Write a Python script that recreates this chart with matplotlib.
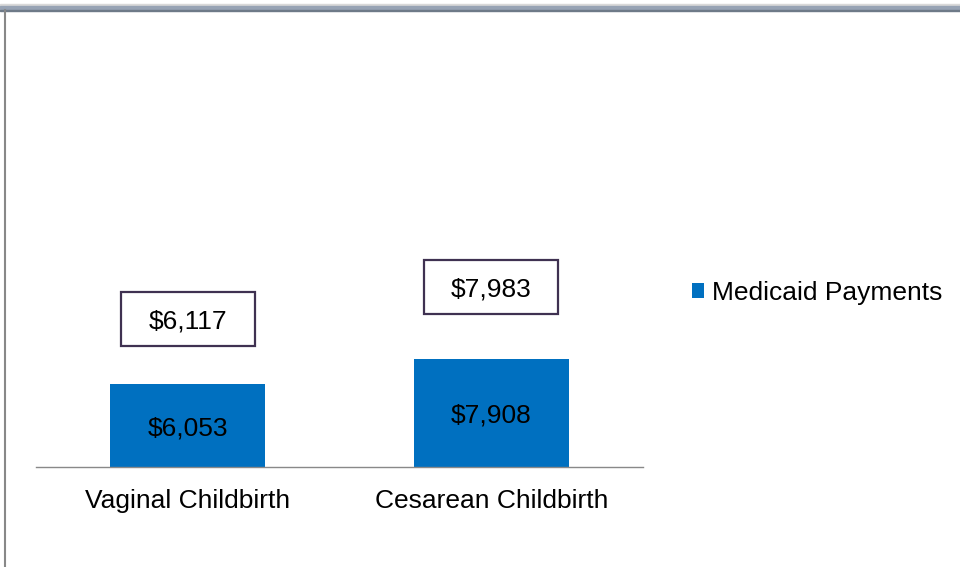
import matplotlib.pyplot as plt
from matplotlib.patches import Rectangle, Patch
from matplotlib.lines import Line2D

categories = ['Vaginal Childbirth', 'Cesarean Childbirth']
medicaid = [6053, 7908]
boxed = [6117, 7983]
series_name = 'Medicaid Payments'

bar_color = '#0070C0'
box_color = '#3F3151'
font = 'Liberation Sans'
fs = 19

fig = plt.figure(figsize=(9.6, 5.67), dpi=100)
W, H = 960, 567
# axes: x from 36 to 643 px, y from 467 (axis) to 20 px
ax = fig.add_axes([36 / W, (H - 467) / H, (643 - 36) / W, (467 - 20) / H])

x = range(len(categories))
bars = ax.bar(x, medicaid, width=0.51, color=bar_color)
ax.set_xlim(-0.5, len(categories) - 0.5)
ax.set_ylim(0, 447 * medicaid[0] / 83)

for s in ['top', 'right', 'left']:
    ax.spines[s].set_visible(False)
ax.spines['bottom'].set_color('#898989')
ax.spines['bottom'].set_linewidth(1)
ax.set_yticks([])
ax.set_xticks(list(x))
ax.set_xticklabels(categories, fontsize=fs, family=font)
ax.tick_params(axis='x', length=0, pad=16)

# labels inside bars
fig.canvas.draw()
for i, v in enumerate(medicaid):
    px, py = ax.transData.transform((i, v / 2))
    fig.text(px / W, (py - 3) / H, '${:,}'.format(v), ha='center', va='center',
             fontsize=fs, family=font, color='black')

# boxed labels above the bars
box_gaps = [65, 71.5]  # px between bar top and box centre
for i, (v, b) in enumerate(zip(medicaid, boxed)):
    px, py = ax.transData.transform((i, v))
    cy = py + box_gaps[i]
    fig.patches.append(Rectangle((px - 67, cy - 27), 134, 54, transform=None,
                                 fill=False, edgecolor=box_color, linewidth=1.6,
                                 figure=fig))
    fig.text(px / W, (cy - 2) / H, '${:,}'.format(b), ha='center', va='center',
             fontsize=fs, family=font, color='black')

# legend
handle = Patch(facecolor=bar_color, edgecolor='none')
leg = fig.legend([handle], [series_name], loc='center left',
                 bbox_to_anchor=(692 / W, (H - 293) / H), frameon=False,
                 prop={'family': font, 'size': fs}, handlelength=0.47,
                 handleheight=0.47, handletextpad=0.3, borderpad=0,
                 borderaxespad=0)

# window-like frame: top band and left line
fig.patches.append(Rectangle((0, (H - 6) / H), 1, 2 / H, transform=fig.transFigure,
                             color='#D9D9D9', figure=fig))
fig.patches.append(Rectangle((0, (H - 10) / H), 1, 4 / H, transform=fig.transFigure,
                             color='#97A3B4', figure=fig))
fig.patches.append(Rectangle((0, (H - 11) / H), 1, 1.2 / H, transform=fig.transFigure,
                             color='#6E7A88', figure=fig))
fig.lines.append(Line2D([5 / W, 5 / W], [0, (H - 10) / H], transform=fig.transFigure,
                        color='#888888', linewidth=1.5, figure=fig))

fig.savefig('out.png', dpi=100)
